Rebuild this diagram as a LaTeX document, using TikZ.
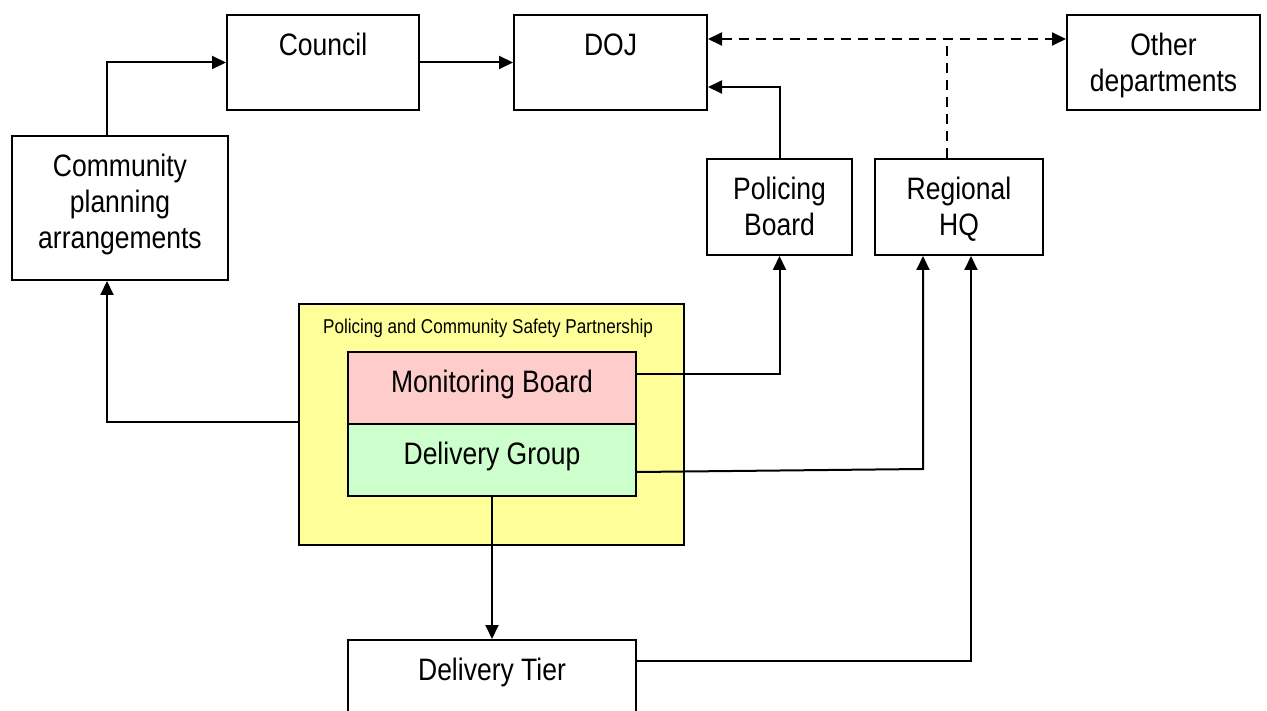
\documentclass[tikz,border=0pt]{standalone}
\usepackage{fontspec}
\setmainfont{Liberation Sans}[FakeStretch=0.855]
\usetikzlibrary{arrows.meta}
\definecolor{pcspyellow}{HTML}{FFFF99}
\definecolor{monpink}{HTML}{FFCCCC}
\definecolor{delgreen}{HTML}{CCFFCC}
\begin{document}
\begin{tikzpicture}[x=1pt,y=-1pt,
  box/.style={draw=black, line width=2pt, fill=white, inner sep=0pt},
  txt/.style={font=\fontsize{31}{36}\selectfont, align=center, inner sep=0pt, anchor=north},
  smalltxt/.style={font=\fontsize{20}{24}\selectfont, inner sep=0pt, anchor=north},
  link/.style={line width=2pt, -{Triangle[length=14pt,width=13pt]}},
  dlink/.style={line width=2pt, dash pattern=on 10pt off 7pt,
    {Triangle[length=14pt,width=13pt]}-{Triangle[length=14pt,width=13pt]}},
  dline/.style={line width=2pt, dash pattern=on 10pt off 7pt}
]
\useasboundingbox (0,0) rectangle (1267,711);

% boxes
\node[box, minimum width=192pt, minimum height=95pt] (council) at (323,62.5) {};
\node[box, minimum width=193pt, minimum height=95pt] (doj) at (610.5,62.5) {};
\node[box, minimum width=193pt, minimum height=95pt] (other) at (1163.5,62.5) {};
\node[box, minimum width=216pt, minimum height=144pt] (community) at (120,208) {};
\node[box, minimum width=145pt, minimum height=96pt] (policing) at (779.5,207) {};
\node[box, minimum width=168pt, minimum height=96pt] (regional) at (959,207) {};
\node[box, fill=pcspyellow, minimum width=385pt, minimum height=241pt] (pcsp) at (491.5,424.5) {};
\node[box, fill=monpink, minimum width=288pt, minimum height=72pt] (monitoring) at (492,388) {};
\node[box, fill=delgreen, minimum width=288pt, minimum height=72pt] (delivery) at (492,460) {};
\node[box, minimum width=288pt, minimum height=90pt] (tier) at (492,685) {};

% labels
\node[txt] (councilT) at (323,30.5) {\strut Council};
\node[txt] (dojT) at (610.5,30.5) {\strut DOJ};
\node[txt] (otherT) at (1163.5,30) {\strut Other\\departments\strut};
\node[txt] (communityT) at (120,151.5) {\strut Community\\planning\\arrangements\strut};
\node[txt] (policingT) at (779.5,173.8) {\strut Policing\\Board\strut};
\node[txt] (regionalT) at (959,173.8) {\strut Regional\\HQ\strut};
\node[smalltxt] (pcspT) at (488,316.2) {\strut Policing and Community Safety Partnership};
\node[txt] (monitoringT) at (492,366.8) {\strut Monitoring Board};
\node[txt] (deliveryT) at (492,438.8) {\strut Delivery Group};
\node[txt] (tierT) at (492,654.8) {\strut Delivery Tier};

% connectors
\coordinate (junction) at (947,39);
\draw[link] ([xshift=-13pt]community.north) |- (council.west);
\draw[link] (council.east) -- (doj.west);
\draw[dlink] (doj.east |- junction) -- (other.west |- junction);
\draw[dline] (regional.north -| junction) -- (junction);
\draw[link] (policing.north) |- (doj.east |- 0,87);
\draw[link] (pcsp.west |- 0,422) -| ([xshift=-13pt]community.south);
\draw[link] (monitoring.east |- 0,374.5) -| (policing.south);
\draw[link] (delivery.east |- 0,472) -- ([xshift=-36pt]regional.south |- 0,469) -- ([xshift=-36pt]regional.south);
\draw[link] (delivery.south) -- (tier.north);
\draw[link] (tier.east |- 0,661) -| ([xshift=12pt]regional.south);
\end{tikzpicture}
\end{document}
